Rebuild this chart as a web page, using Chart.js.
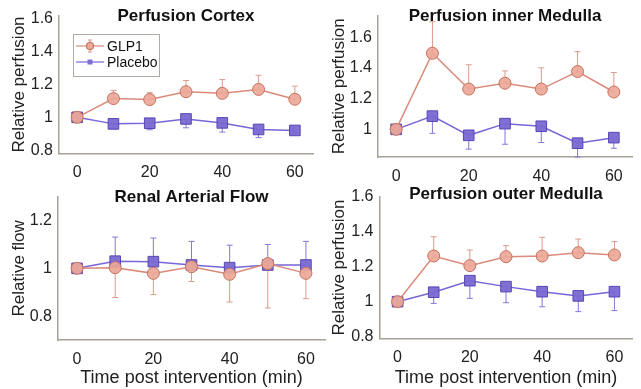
<!DOCTYPE html>
<html>
<head>
<meta charset="utf-8">
<script src="https://cdn.jsdelivr.net/npm/chart.js@4"></script>
<style>
    body { margin: 0; background: #fff; }
    #wrap { position: relative; width: 641px; height: 389px; }
    #wrap canvas { position: absolute; left: 0; top: 0; }
</style>
</head>
<body>
<div id="wrap">
    <canvas id="c1" width="641" height="389"></canvas>
    <canvas id="c2" width="641" height="389"></canvas>
    <canvas id="c3" width="641" height="389"></canvas>
    <canvas id="c4" width="641" height="389"></canvas>
</div>
<script>
const times = [0, 10, 20, 30, 40, 50, 60];
const xTicks = [0, 20, 40, 60];

// Perfusion Cortex
const cortexGlp = [1.00, 1.114, 1.108, 1.156, 1.146, 1.17, 1.11];
const cortexGlpErr = [null, 1.164, 1.15, 1.224, 1.23, 1.256, 1.19];
const cortexPla = [1.00, 0.96, 0.964, 0.99, 0.966, 0.926, 0.92];
const cortexPlaErr = [null, 0.93, 0.924, 0.936, 0.91, 0.876, 0.905];

// Perfusion inner Medulla
const innerGlp = [1.00, 1.495, 1.262, 1.30, 1.262, 1.376, 1.243];
const innerGlpErr = [null, 1.70, 1.42, 1.38, 1.40, 1.505, 1.37];
const innerPla = [1.00, 1.086, 0.961, 1.037, 1.02, 0.91, 0.946];
const innerPlaErr = [null, 0.974, 0.871, 0.903, 0.914, 0.82, 0.877];

// Renal Arterial Flow
const flowGlp = [1.00, 1.003, 0.979, 1.007, 0.975, 1.02, 0.979];
const flowGlpErr = [null, 0.878, 0.89, 0.945, 0.859, 0.834, 0.873];
const flowPla = [1.00, 1.03, 1.028, 1.014, 1.003, 1.014, 1.014];
const flowPlaErr = [null, 1.131, 1.127, 1.113, 1.097, 1.10, 1.113];

// Perfusion outer Medulla
const outerGlp = [1.00, 1.261, 1.206, 1.257, 1.261, 1.28, 1.267];
const outerGlpErr = [null, 1.371, 1.295, 1.32, 1.368, 1.358, 1.343];
const outerPla = [1.00, 1.054, 1.12, 1.086, 1.057, 1.033, 1.057];
const outerPlaErr = [null, 0.99, 1.019, 0.994, 0.971, 0.943, 0.949];

const glpColor = { line: '#d98a7b', fill: 'rgba(236,168,152,0.92)', border: '#c7715f', err: '#dc9a8b' };
const plaColor = { line: '#7666d6', fill: 'rgba(122,104,210,0.95)', border: '#5846b6', err: '#8577da' };
const fontFamily = '"Liberation Sans", Arial, Helvetica, sans-serif';

// error bars: line from value to read end, with a small cap
const errorBars = {
    id: 'errorBars',
    beforeDatasetsDraw(chart) {
        const ctx = chart.ctx;
        const xs = chart.scales.x, ys = chart.scales.y;
        chart.data.datasets.forEach(ds => {
            ctx.save();
            ctx.strokeStyle = ds.errColor;
            ctx.lineWidth = 1;
            ds.errEnd.forEach((e, i) => {
                if (e === null) return;
                const px = xs.getPixelForValue(ds.data[i].x);
                const py0 = ys.getPixelForValue(ds.data[i].y);
                const py1 = Math.max(ys.getPixelForValue(e), ys.top - 4);
                const py1c = Math.min(py1, ys.bottom);
                ctx.beginPath();
                ctx.moveTo(px, py0);
                ctx.lineTo(px, py1c);
                ctx.moveTo(px - 3, py1c);
                ctx.lineTo(px + 3, py1c);
                ctx.stroke();
            });
            ctx.restore();
        });
    }
};

const panelTitle = {
    id: 'panelTitle',
    afterDraw(chart, args, opts) {
        if (!opts.text) return;
        const ctx = chart.ctx;
        const a = chart.chartArea;
        ctx.save();
        ctx.font = 'bold 17px ' + fontFamily;
        ctx.fillStyle = '#111';
        ctx.textAlign = 'center';
        ctx.textBaseline = 'middle';
        ctx.fillText(opts.text, (a.left + a.right) / 2, opts.y);
        ctx.restore();
    }
};

const boxLegend = {
    id: 'boxLegend',
    afterDraw(chart, args, opts) {
        if (!opts.show) return;
        const ctx = chart.ctx;
        ctx.save();
        ctx.fillStyle = '#fff';
        ctx.fillRect(73, 34, 86, 42);
        ctx.strokeStyle = '#b0aaa4';
        ctx.lineWidth = 1;
        ctx.strokeRect(73.5, 34.5, 86, 42);
        const rows = [
            { label: 'GLP1', c: glpColor, style: 'circle', y: 46 },
            { label: 'Placebo', c: plaColor, style: 'rect', y: 62 }
        ];
        rows.forEach(r => {
            ctx.strokeStyle = r.c.line;
            ctx.lineWidth = 1.2;
            ctx.beginPath();
            ctx.moveTo(76, r.y);
            ctx.lineTo(104, r.y);
            ctx.stroke();
            if (r.style === 'circle') {
                ctx.strokeStyle = r.c.err;
                ctx.beginPath();
                ctx.moveTo(90, r.y - 6); ctx.lineTo(90, r.y + 6);
                ctx.moveTo(88, r.y - 6); ctx.lineTo(92, r.y - 6);
                ctx.moveTo(88, r.y + 6); ctx.lineTo(92, r.y + 6);
                ctx.stroke();
                ctx.fillStyle = r.c.fill;
                ctx.strokeStyle = r.c.border;
                ctx.beginPath();
                ctx.arc(90, r.y, 3.5, 0, Math.PI * 2);
                ctx.fill();
                ctx.stroke();
            } else {
                ctx.fillStyle = r.c.fill;
                ctx.fillRect(87.5, r.y - 2.5, 5, 5);
            }
            ctx.fillStyle = '#111';
            ctx.font = '14px ' + fontFamily;
            ctx.textAlign = 'left';
            ctx.textBaseline = 'middle';
            ctx.fillText(r.label, 107, r.y + 1);
        });
        ctx.restore();
    }
};

function series(label, vals, errs, c, style, radius) {
    return {
        label: label,
        data: times.map((t, i) => ({ x: t, y: vals[i] })),
        errEnd: errs,
        errColor: c.err,
        borderColor: c.line,
        borderWidth: 1.5,
        backgroundColor: c.fill,
        pointBackgroundColor: c.fill,
        pointBorderColor: c.border,
        pointBorderWidth: 1,
        pointStyle: style,
        pointRadius: radius,
        tension: 0,
        clip: false
    };
}

function makePanel(id, p) {
    const padLeft = p.L < 320 ? 0 : 320;
    const xHeight = p.showXTitle ? 389 - p.B : 37;
    return new Chart(document.getElementById(id), {
        type: 'line',
        data: {
            datasets: [
                series('GLP1', p.glp, p.glpErr, glpColor, 'circle', 6),
                series('Placebo', p.pla, p.plaErr, plaColor, 'rect', 7.5)
            ]
        },
        options: {
            responsive: false,
            animation: false,
            devicePixelRatio: 1,
            events: [],
            layout: {
                padding: { left: padLeft, right: 641 - p.R, top: p.T, bottom: 389 - p.B - xHeight }
            },
            scales: {
                x: {
                    type: 'linear',
                    min: -5, max: 65,
                    afterBuildTicks: s => { s.ticks = xTicks.map(v => ({ value: v })); },
                    afterFit: s => { s.height = xHeight; },
                    ticks: { color: '#222', padding: 10, font: { size: 16, family: fontFamily } },
                    grid: { drawOnChartArea: false, drawTicks: false },
                    border: { color: '#a7a19a', width: 1.5 },
                    title: {
                        display: !!p.showXTitle,
                        text: 'Time post intervention (min)',
                        color: '#222',
                        font: { size: 18, family: fontFamily },
                        padding: { top: 0, bottom: 0 }
                    }
                },
                y: {
                    type: 'linear',
                    min: p.ymin, max: p.ymax,
                    afterBuildTicks: s => { s.ticks = p.yTicks.map(v => ({ value: v })); },
                    afterFit: s => { s.width = p.L - padLeft; },
                    ticks: {
                        color: '#222', padding: 6,
                        font: { size: 16, family: fontFamily },
                        callback: v => String(Number(v.toFixed(1)))
                    },
                    grid: { drawOnChartArea: false, drawTicks: false },
                    border: { color: '#a7a19a', width: 1.5 },
                    title: {
                        display: true,
                        text: p.yTitle,
                        color: '#222',
                        font: { size: 17, family: fontFamily },
                        padding: { top: 9, bottom: 0 }
                    }
                }
            },
            plugins: {
                legend: { display: false },
                tooltip: { enabled: false },
                panelTitle: { text: p.title, y: p.titleY },
                boxLegend: { show: !!p.legend }
            }
        },
        plugins: [errorBars, panelTitle, boxLegend]
    });
}

makePanel('c1', {
    L: 59, R: 313, T: 13.4, B: 153.4, ymin: 0.78, ymax: 1.62,
    yTicks: [0.8, 1, 1.2, 1.4, 1.6], yTitle: 'Relative perfusion',
    title: 'Perfusion Cortex', titleY: 16, legend: true,
    glp: cortexGlp, glpErr: cortexGlpErr, pla: cortexPla, plaErr: cortexPlaErr
});
makePanel('c2', {
    L: 378, R: 632, T: 15, B: 157, ymin: 0.82, ymax: 1.74,
    yTicks: [1, 1.2, 1.4, 1.6], yTitle: 'Relative perfusion',
    title: 'Perfusion inner Medulla', titleY: 16,
    glp: innerGlp, glpErr: innerGlpErr, pla: innerPla, plaErr: innerPlaErr
});
makePanel('c3', {
    L: 58, R: 325, T: 196.7, B: 340, ymin: 0.7, ymax: 1.3,
    yTicks: [0.8, 1, 1.2], yTitle: 'Relative flow',
    title: 'Renal Arterial Flow', titleY: 197, showXTitle: true,
    glp: flowGlp, glpErr: flowGlpErr, pla: flowPla, plaErr: flowPlaErr
});
makePanel('c4', {
    L: 379.5, R: 635, T: 196.7, B: 338.4, ymin: 0.79, ymax: 1.6,
    yTicks: [0.8, 1, 1.2, 1.4, 1.6], yTitle: 'Relative perfusion',
    title: 'Perfusion outer Medulla', titleY: 194, showXTitle: true,
    glp: outerGlp, glpErr: outerGlpErr, pla: outerPla, plaErr: outerPlaErr
});
</script>
</body>
</html>
